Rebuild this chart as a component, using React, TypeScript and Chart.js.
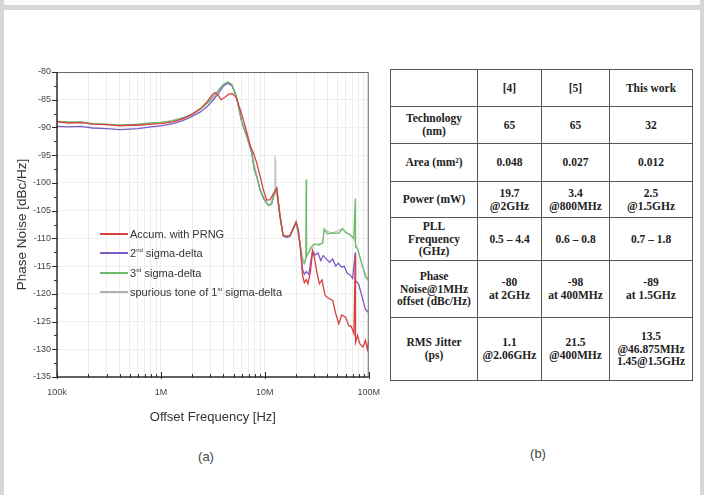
import React, { useEffect, useRef } from "react";
import { Chart, registerables } from "chart.js";

Chart.register(...registerables);

// ---------- chart data ----------
const redFreq = [1e5, 1.3e5, 1.7e5, 2.2e5, 3e5, 4e5, 5e5, 6e5, 8e5, 1e6, 1.3e6, 1.6e6, 2e6, 2.4e6, 2.8e6, 3.1e6, 3.3e6, 3.5e6, 3.8e6, 4.1e6, 4.5e6, 4.9e6, 5.3e6, 5.8e6, 6.3e6, 6.8e6, 7.3e6, 7.8e6, 8.3e6, 8.7e6, 9.2e6, 9.7e6, 1.04e7, 1.13e7, 1.2e7, 1.3e7, 1.4e7, 1.5e7, 1.6e7, 1.74e7, 1.85e7, 2e7, 2.1e7, 2.2e7, 2.3e7, 2.4e7, 2.5e7, 2.6e7, 2.75e7, 2.88e7, 3e7, 3.15e7, 3.35e7, 3.55e7, 3.8e7, 4.1e7, 4.5e7, 4.8e7, 5.15e7, 5.5e7, 6e7, 6.4e7, 6.8e7, 7.2e7, 7.43e7, 7.46e7, 7.8e7, 8.2e7, 8.8e7, 9.3e7, 9.7e7, 1e8];
const redDb = [-89.0, -89.2, -89.1, -89.4, -89.5, -89.7, -89.6, -89.6, -89.4, -89.3, -89.0, -88.5, -87.6, -86.6, -85.3, -84.2, -83.7, -84.0, -85.0, -84.6, -84.0, -83.9, -84.6, -86.8, -89.0, -91.3, -93.5, -94.7, -96.2, -97.7, -99.5, -101.3, -103.1, -103.0, -102.0, -101.0, -106.0, -109.4, -109.6, -109.5, -108.4, -107.0, -108.5, -112.0, -116.5, -118.0, -117.4, -118.2, -116.0, -112.3, -113.5, -115.8, -118.2, -117.5, -120.3, -120.8, -121.2, -123.5, -125.4, -123.8, -124.2, -125.7, -125.9, -127.2, -113.0, -128.8, -127.5, -129.0, -129.6, -128.4, -130.0, -128.5];

const purpleFreq = [1e5, 1.3e5, 1.7e5, 2.2e5, 3e5, 4e5, 5e5, 6e5, 8e5, 1e6, 1.3e6, 1.6e6, 2e6, 2.4e6, 2.8e6, 3.2e6, 3.6e6, 4e6, 4.4e6, 4.8e6, 5.3e6, 6e6, 6.8e6, 7.5e6, 7.9e6, 8.4e6, 9e6, 9.8e6, 1.08e7, 1.16e7, 1.23e7, 1.3e7, 1.4e7, 1.5e7, 1.6e7, 1.74e7, 1.85e7, 2e7, 2.1e7, 2.2e7, 2.3e7, 2.4e7, 2.5e7, 2.65e7, 2.75e7, 2.88e7, 3.05e7, 3.25e7, 3.45e7, 3.65e7, 3.9e7, 4.2e7, 4.5e7, 4.8e7, 5.1e7, 5.5e7, 5.8e7, 6.2e7, 6.6e7, 7e7, 7.43e7, 7.46e7, 8e7, 8.7e7, 9.3e7, 1e8];
const purpleDb = [-89.8, -89.9, -89.8, -90.1, -90.2, -90.4, -90.3, -90.2, -89.9, -89.7, -89.3, -88.8, -88.0, -87.2, -86.2, -85.0, -83.8, -82.5, -82.0, -82.4, -84.3, -89.0, -91.8, -94.6, -97.5, -99.0, -101.2, -103.0, -104.0, -103.8, -102.0, -101.0, -106.0, -109.6, -109.8, -109.7, -108.6, -107.2, -108.8, -111.5, -115.5, -116.5, -116.0, -116.5, -114.5, -112.2, -113.0, -112.6, -114.0, -113.1, -113.7, -114.3, -113.7, -115.0, -114.5, -115.2, -115.0, -116.3, -116.6, -117.2, -112.5, -117.6, -118.3, -120.8, -122.8, -123.4];

const greenFreq = [1e5, 1.3e5, 1.7e5, 2.2e5, 3e5, 4e5, 5e5, 6e5, 8e5, 1e6, 1.3e6, 1.6e6, 2e6, 2.4e6, 2.8e6, 3.2e6, 3.6e6, 4e6, 4.4e6, 4.8e6, 5.3e6, 6e6, 6.8e6, 7.5e6, 7.9e6, 8.4e6, 9e6, 9.8e6, 1.08e7, 1.16e7, 1.23e7, 1.3e7, 1.4e7, 1.5e7, 1.6e7, 1.74e7, 1.85e7, 2e7, 2.1e7, 2.2e7, 2.3e7, 2.4e7, 2.48e7, 2.5e7, 2.52e7, 2.65e7, 2.8e7, 3e7, 3.3e7, 3.6e7, 3.73e7, 4e7, 4.4e7, 4.8e7, 5.2e7, 5.57e7, 6e7, 6.6e7, 7.18e7, 7.43e7, 7.46e7, 7.8e7, 8.3e7, 8.8e7, 9.3e7, 1e8];
const greenDb = [-88.9, -89.0, -89.0, -89.3, -89.4, -89.6, -89.5, -89.4, -89.2, -89.1, -88.8, -88.3, -87.6, -86.7, -85.6, -84.4, -83.2, -82.2, -81.8, -82.2, -84.2, -89.0, -91.8, -94.6, -97.5, -99.0, -101.2, -103.0, -104.0, -103.8, -102.0, -101.0, -106.0, -109.5, -109.7, -109.6, -108.5, -107.1, -108.6, -111.5, -114.0, -114.5, -113.5, -99.4, -113.2, -112.5, -111.5, -111.0, -111.2, -110.8, -108.3, -109.2, -109.0, -109.1, -109.0, -108.2, -109.0, -109.3, -110.0, -102.8, -111.6, -111.8, -113.6, -115.3, -117.0, -117.6];

const grayFreq = [1e5, 3e5, 6e5, 1e6, 2e6, 3e6, 4e6, 4.4e6, 4.8e6, 5.3e6, 6e6, 7.5e6, 9e6, 1.08e7, 1.16e7, 1.23e7, 1.25e7, 1.26e7, 1.27e7, 1.28e7, 1.4e7, 1.5e7, 1.74e7, 2e7, 2.2e7, 2.4e7, 2.6e7, 3e7, 3.6e7, 3.73e7, 4.4e7, 5.57e7, 6.6e7, 7.18e7, 7.8e7, 8.8e7, 1e8];
const grayDb = [-89.0, -89.5, -89.5, -89.2, -87.8, -85.2, -82.4, -81.9, -82.3, -84.3, -89.1, -94.7, -101.3, -104.1, -103.9, -102.1, -95.0, -100.5, -96.0, -101.2, -106.1, -109.6, -109.7, -107.2, -111.6, -114.6, -112.8, -111.1, -110.9, -108.4, -109.1, -108.3, -109.4, -110.1, -111.9, -115.4, -117.7];

const seriesColors = ["#d8413f", "#6dbb6a", "#7b5bc6", "#c4c4c4"];
const legendMain = ["Accum. with PRNG", "2", "3", "spurious tone of 1"];
const legendSup = ["", "nd", "rd", "st"];
const legendRest = ["", " sigma-delta", " sigma-delta", " sigma-delta"];
const legendColors = ["#d8413f", "#7b5bc6", "#6dbb6a", "#b0b0b0"];

// axes
const xMin = 1e5;
const xMax = 1e8;
const xDecades = [1e5, 1e6, 1e7];
const xMultipliers = [1, 2, 3, 4, 5, 6, 7, 8, 9];
const xMajorValues = [1e5, 1e6, 1e7, 1e8];
const xTickLabels = ["100k", "1M", "10M", "100M"];
const yMin = -135;
const yMax = -80;
const yStep = 5;
const yMinorStep = 2.5;

// ---------- table data ----------
const tableHeader = ["", "[4]", "[5]", "This work"];
const rowLabels = [["Technology", "(nm)"], ["Area (mm²)"], ["Power (mW)"], ["PLL", "Frequency", "(GHz)"], ["Phase", "Noise@1MHz", "offset (dBc/Hz)"], ["RMS Jitter", "(ps)"]];
const ref4 = [["65"], ["0.048"], ["19.7", "@2GHz"], ["0.5 – 4.4"], ["-80", "at 2GHz"], ["1.1", "@2.06GHz"]];
const ref5 = [["65"], ["0.027"], ["3.4", "@800MHz"], ["0.6 – 0.8"], ["-98", "at 400MHz"], ["21.5", "@400MHz"]];
const thisWork = [["32"], ["0.012"], ["2.5", "@1.5GHz"], ["0.7 – 1.8"], ["-89", "at 1.5GHz"], ["13.5", "@46.875MHz", "1.45@1.5GHz"]];

const sansFont = "'Liberation Sans', Arial, sans-serif";
const serifFont = "'Liberation Serif', 'Times New Roman', serif";

const xTickValues: number[] = [];
xDecades.forEach((d) => xMultipliers.forEach((m) => xTickValues.push(d * m)));
xTickValues.push(xMax);

const yTickValues: number[] = [];
for (let v = yMin; v <= yMax + 1e-9; v += yMinorStep) yTickValues.push(v);

const framePlugin = {
  id: "frame",
  afterDraw(chart: any) {
    const { ctx, chartArea: a, scales } = chart;
    const xs = scales.x;
    const ys = scales.y;
    ctx.save();
    ctx.lineWidth = 1;
    ctx.strokeStyle = "#6a6a6a";
    ctx.beginPath();
    ctx.moveTo(a.left, a.top + 0.5);
    ctx.lineTo(a.right - 0.5, a.top + 0.5);
    ctx.lineTo(a.right - 0.5, a.bottom);
    ctx.stroke();
    ctx.strokeStyle = "#2e2e2e";
    ctx.lineWidth = 1.5;
    ctx.beginPath();
    ctx.moveTo(a.left, a.top);
    ctx.lineTo(a.left, a.bottom);
    ctx.lineTo(a.right, a.bottom);
    ctx.stroke();
    ctx.lineWidth = 1;
    ctx.beginPath();
    yTickValues.forEach((v) => {
      const y = Math.round(ys.getPixelForValue(v)) + 0.5;
      const major = Math.abs(v / yStep - Math.round(v / yStep)) < 1e-6;
      const len = major ? 5 : 3;
      ctx.moveTo(a.left - len, y);
      ctx.lineTo(a.left + (major ? 1 : 0), y);
    });
    xTickValues.forEach((v) => {
      const x = Math.round(xs.getPixelForValue(v)) + 0.5;
      const major = xMajorValues.includes(v);
      ctx.moveTo(x, a.bottom - (major ? 5 : 3));
      ctx.lineTo(x, a.bottom + (major ? 2 : 1));
    });
    ctx.stroke();
    ctx.restore();
  },
};

function toPoints(f: number[], d: number[]) {
  return f.map((x, i) => ({ x, y: d[i] }));
}

function PhaseNoiseChart() {
  const ref = useRef<HTMLCanvasElement | null>(null);
  useEffect(() => {
    if (!ref.current) return;
    const chart = new Chart(ref.current, {
      type: "line",
      data: {
        datasets: [
          { label: "Accum. with PRNG", data: toPoints(redFreq, redDb), borderColor: seriesColors[0], borderWidth: 1.3 },
          { label: "3rd sigma-delta", data: toPoints(greenFreq, greenDb), borderColor: seriesColors[1], borderWidth: 1.3 },
          { label: "2nd sigma-delta", data: toPoints(purpleFreq, purpleDb), borderColor: seriesColors[2], borderWidth: 1.3 },
          { label: "spurious tone of 1st sigma-delta", data: toPoints(grayFreq, grayDb), borderColor: seriesColors[3], borderWidth: 1.2 },
        ],
      },
      options: {
        responsive: false,
        animation: false,
        layout: { padding: { top: 72, right: 18, left: 0, bottom: 0 } },
        elements: { point: { radius: 0 }, line: { tension: 0 } },
        plugins: { legend: { display: false }, tooltip: { enabled: false } },
        scales: {
          x: {
            type: "logarithmic",
            min: xMin,
            max: xMax,
            afterBuildTicks: (s: any) => {
              s.ticks = xTickValues.map((v) => ({ value: v }));
            },
            afterFit: (s: any) => {
              s.height = 63;
            },
            ticks: {
              autoSkip: false,
              maxRotation: 0,
              padding: 10,
              color: "#444",
              font: { family: sansFont, size: 9 },
              callback: (value: any) => {
                const i = xMajorValues.indexOf(Number(value));
                return i >= 0 ? xTickLabels[i] : "";
              },
            },
            grid: { color: "#ededed", drawTicks: false },
            border: { display: false },
            title: {
              display: true,
              text: "Offset Frequency [Hz]",
              color: "#333",
              font: { family: sansFont, size: 13 },
              padding: { top: 0, bottom: 15 },
            },
          },
          y: {
            type: "linear",
            min: yMin,
            max: yMax,
            afterFit: (s: any) => {
              s.width = 57;
            },
            ticks: {
              stepSize: yStep,
              padding: 6,
              color: "#444",
              font: { family: sansFont, size: 9 },
            },
            grid: { color: "#f0f0f0", drawTicks: false },
            border: { display: false },
            title: {
              display: true,
              text: "Phase Noise [dBc/Hz]",
              color: "#333",
              font: { family: sansFont, size: 13.5 },
              padding: { top: 14, bottom: 0 },
            },
          },
        },
      },
      plugins: [framePlugin],
    } as any);
    return () => chart.destroy();
  }, []);
  return <canvas ref={ref} width={390} height={440} style={{ position: "absolute", left: 0, top: 0 }} />;
}

const colWidths = [86, 63, 67, 82];
const rowHeights = [36, 36, 37, 35, 42, 56, 62];

function Cell({ lines }: { lines: string[] }) {
  return (
    <div
      style={{
        background: "#fff",
        display: "flex",
        flexDirection: "column",
        alignItems: "center",
        justifyContent: "center",
        textAlign: "center",
        fontFamily: serifFont,
        fontWeight: "bold",
        fontSize: 11.5,
        lineHeight: "12.7px",
        color: "#222",
        whiteSpace: "nowrap",
      }}
    >
      {lines.map((l, i) => (
        <div key={i}>{l}</div>
      ))}
    </div>
  );
}

function ComparisonTable() {
  const cells: string[][] = [];
  tableHeader.forEach((h) => cells.push(h ? [h] : []));
  rowLabels.forEach((lab, r) => {
    cells.push(lab, ref4[r], ref5[r], thisWork[r]);
  });
  return (
    <div
      style={{
        position: "absolute",
        left: 390,
        top: 69,
        display: "grid",
        gridTemplateColumns: colWidths.map((w) => w + "px").join(" "),
        gridTemplateRows: rowHeights.map((h) => h + "px").join(" "),
        gap: 1,
        padding: 1,
        background: "#555",
      }}
    >
      {cells.map((c, i) => (
        <Cell key={i} lines={c} />
      ))}
    </div>
  );
}

export default function App() {
  return (
    <div style={{ position: "absolute", left: 0, top: 0, width: 704, height: 495, background: "#d6d6d6", overflow: "hidden" }}>
      <div style={{ position: "absolute", left: 4, top: 0, width: 696, height: 5, background: "#fbfbfb" }} />
      <div style={{ position: "absolute", left: 4, top: 10, width: 696, height: 485, background: "#fff" }} />
      <PhaseNoiseChart />
      {legendMain.map((m, i) => (
        <div key={i} style={{ position: "absolute", left: 100, top: Math.round(234 + i * 19.3) - 1, width: 28, height: 2, background: legendColors[i] }} />
      ))}
      {legendMain.map((m, i) => (
        <div
          key={"t" + i}
          style={{ position: "absolute", left: 130, top: Math.round(234 + i * 19.3) - 7, lineHeight: "14px", fontFamily: sansFont, fontSize: 11, color: "#333", whiteSpace: "nowrap" }}
        >
          {m}
          {legendSup[i] ? <sup style={{ fontSize: 6, verticalAlign: "top", lineHeight: "8px" }}>{legendSup[i]}</sup> : null}
          {legendRest[i]}
        </div>
      ))}
      <ComparisonTable />
      <div style={{ position: "absolute", left: 186, top: 449, width: 40, textAlign: "center", fontFamily: sansFont, fontSize: 13, color: "#444" }}>(a)</div>
      <div style={{ position: "absolute", left: 518, top: 446, width: 40, textAlign: "center", fontFamily: sansFont, fontSize: 13, color: "#444" }}>(b)</div>
    </div>
  );
}
